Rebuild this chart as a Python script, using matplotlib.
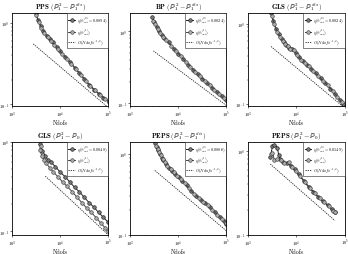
import numpy as np
import matplotlib
matplotlib.use('Agg')
import matplotlib.pyplot as plt

plt.rcParams['font.family'] = 'serif'
plt.rcParams['font.serif'] = ['cmr10', 'DejaVu Serif']
plt.rcParams['mathtext.fontset'] = 'cm'
plt.rcParams['axes.formatter.use_mathtext'] = True

# values, stored as log10(Ndofs) and log10(eta)
titles = [r'$\mathbf{PPS}\ (\mathbb{P}_1^2-\mathbb{P}_1^{dis})$',
          r'$\mathbf{BP}\ (\mathbb{P}_1^2-\mathbb{P}_1^{dis})$',
          r'$\mathbf{GLS}\ (\mathbb{P}_1^2-\mathbb{P}_1^{dis})$',
          r'$\mathbf{GLS}\ (\mathbb{P}_1^2-\mathbb{P}_0)$',
          r'$\mathbf{PEPS}\ (\mathbb{P}_1^2-\mathbb{P}_1^{dis})$',
          r'$\mathbf{PEPS}\ (\mathbb{P}_1^2-\mathbb{P}_0)$']
alpha0 = ['0.0894', '0.0024', '0.0024', '0.0048', '0.0886', '0.0149']

pps_n0 = [3.49, 3.54, 3.59, 3.65, 3.72, 3.78, 3.85, 3.93, 4.0, 4.1, 4.2, 4.3, 4.4, 4.5, 4.6, 4.7, 4.8, 4.9, 5.02]
pps_e0 = [0.12, 0.03, -0.04, -0.10, -0.16, -0.20, -0.24, -0.30, -0.35, -0.42, -0.48, -0.55, -0.62, -0.69, -0.76, -0.82, -0.87, -0.92, -0.97]
pps_n1 = [3.50, 3.56, 3.61, 3.67, 3.74, 3.81, 3.88, 3.96, 4.04, 4.14, 4.23, 4.33, 4.43, 4.53, 4.63, 4.73, 4.83, 4.93, 5.01]
pps_e1 = [0.09, 0.01, -0.06, -0.12, -0.18, -0.22, -0.27, -0.32, -0.38, -0.44, -0.50, -0.57, -0.64, -0.71, -0.77, -0.83, -0.88, -0.93, -0.96]

bp_n0 = [3.46, 3.5, 3.55, 3.6, 3.65, 3.7, 3.8, 3.9, 4.0, 4.1, 4.2, 4.3, 4.4, 4.5, 4.6, 4.7, 4.8, 4.9, 5.0]
bp_e0 = [0.2, 0.13, 0.06, 0.0, -0.05, -0.09, -0.15, -0.24, -0.31, -0.38, -0.46, -0.53, -0.59, -0.66, -0.72, -0.78, -0.84, -0.90, -0.955]
bp_n1 = [3.48, 3.52, 3.57, 3.62, 3.67, 3.75, 3.85, 3.95, 4.05, 4.15, 4.25, 4.35, 4.45, 4.55, 4.65, 4.75, 4.85, 4.95]
bp_e1 = [0.15, 0.1, 0.03, -0.02, -0.07, -0.12, -0.2, -0.27, -0.34, -0.42, -0.49, -0.56, -0.62, -0.69, -0.75, -0.81, -0.87, -0.93]

gls_n0 = [3.47, 3.52, 3.57, 3.63, 3.69, 3.74, 3.79, 3.84, 3.91, 3.98, 4.06, 4.14, 4.21, 4.3, 4.4, 4.5, 4.6, 4.7, 4.8, 4.9, 4.97]
gls_e0 = [0.13, 0.03, -0.07, -0.13, -0.19, -0.23, -0.27, -0.30, -0.31, -0.36, -0.42, -0.47, -0.51, -0.56, -0.62, -0.68, -0.74, -0.81, -0.88, -0.95, -1.0]
gls_n1 = [3.49, 3.54, 3.6, 3.66, 3.71, 3.77, 3.82, 3.87, 3.94, 4.02, 4.1, 4.18, 4.26, 4.35, 4.45, 4.55, 4.65, 4.75, 4.85, 4.94]
gls_e1 = [0.1, -0.01, -0.1, -0.16, -0.21, -0.25, -0.28, -0.31, -0.33, -0.39, -0.45, -0.49, -0.53, -0.59, -0.65, -0.71, -0.77, -0.84, -0.91, -0.98]

glsp0_n0 = [3.58, 3.63, 3.69, 3.75, 3.81, 3.9, 4.0, 4.1, 4.2, 4.3, 4.4, 4.5, 4.6, 4.7, 4.8, 4.9, 5.0]
glsp0_e0 = [-0.03, -0.1, -0.16, -0.21, -0.23, -0.28, -0.34, -0.39, -0.45, -0.51, -0.56, -0.62, -0.68, -0.73, -0.79, -0.845, -0.9]
glsp0_n1 = [3.6, 3.57, 3.62, 3.66, 3.71, 3.78, 3.86, 3.95, 4.05, 4.15, 4.25, 4.35, 4.45, 4.55, 4.65, 4.75, 4.85, 4.93, 5.0]
glsp0_e1 = [-0.05, -0.09, -0.16, -0.2, -0.24, -0.29, -0.34, -0.39, -0.45, -0.5, -0.56, -0.62, -0.68, -0.74, -0.79, -0.85, -0.91, -0.96, -1.0]

peps_n0 = [3.51, 3.55, 3.58, 3.62, 3.66, 3.69, 3.74, 3.8, 3.87, 3.94, 4.01, 4.08, 4.17, 4.27, 4.37, 4.47, 4.56, 4.66, 4.76, 4.86, 4.95, 5.0]
peps_e0 = [0.136, 0.08, 0.05, 0.0, -0.05, -0.08, -0.12, -0.17, -0.21, -0.25, -0.29, -0.33, -0.39, -0.46, -0.52, -0.57, -0.61, -0.66, -0.72, -0.78, -0.83, -0.86]
peps_n1 = [3.53, 3.57, 3.6, 3.64, 3.68, 3.72, 3.77, 3.84, 3.91, 3.98, 4.05, 4.13, 4.22, 4.32, 4.42, 4.52, 4.61, 4.71, 4.81, 4.91, 4.99]
peps_e1 = [0.1, 0.06, 0.02, -0.02, -0.07, -0.1, -0.15, -0.19, -0.23, -0.27, -0.31, -0.36, -0.42, -0.49, -0.54, -0.59, -0.63, -0.69, -0.75, -0.8, -0.85]

pepsp0_n0 = [3.455, 3.5, 3.54, 3.6, 3.63, 3.66, 3.72, 3.8, 3.88, 3.96, 4.05, 4.15, 4.25, 4.35, 4.45, 4.55, 4.65, 4.73, 4.8]
pepsp0_e0 = [-0.07, 0.055, 0.075, 0.04, -0.05, -0.1, -0.13, -0.14, -0.18, -0.22, -0.28, -0.36, -0.43, -0.49, -0.55, -0.6, -0.65, -0.69, -0.73]
pepsp0_n1 = [3.47, 3.5, 3.54, 3.6, 3.67, 3.74, 3.84, 3.9, 3.98, 4.08, 4.18, 4.28, 4.38, 4.48, 4.58, 4.68, 4.76, 4.8]
pepsp0_e1 = [-0.04, -0.02, -0.11, -0.1, -0.11, -0.15, -0.13, -0.19, -0.24, -0.3, -0.37, -0.44, -0.5, -0.56, -0.61, -0.66, -0.71, -0.73]

series0 = [(pps_n0, pps_e0), (bp_n0, bp_e0), (gls_n0, gls_e0),
           (glsp0_n0, glsp0_e0), (peps_n0, peps_e0), (pepsp0_n0, pepsp0_e0)]
series1 = [(pps_n1, pps_e1), (bp_n1, bp_e1), (gls_n1, gls_e1),
           (glsp0_n1, glsp0_e1), (peps_n1, peps_e1), (pepsp0_n1, pepsp0_e1)]

# reference O(Ndofs^-1/2): log10 of the constant, and the Ndofs range of the line
ref_logC = [1.46, 1.47, 1.45, 1.46, 1.55, 1.57]
ref_start = [3.44, 3.48, 3.47, 3.69, 3.51, 3.455]
ref_end = [5.0, 5.0, 5.0, 5.0, 5.0, 4.8]

# y limits (log10) per panel
ylims = [(-1.024, 0.12), (-1.04, 0.257), (-1.03, 0.133),
         (-1.04, 0.0), (-1.0, 0.15), (-1.0, 0.11)]

fig, axes = plt.subplots(2, 3, figsize=(3.48, 2.55), dpi=100)
fig.subplots_adjust(left=0.035, right=0.99, top=0.945, bottom=0.075,
                    wspace=0.23, hspace=0.38)

for i, ax in enumerate(axes.flat):
    n0, e0 = series0[i]
    n1, e1 = series1[i]
    ax.loglog(10 ** np.array(n0), 10 ** np.array(e0), '-o', color='#222222',
              lw=0.7, ms=2.6, mfc='#777777', mec='#111111', mew=0.4,
              label=r'$\eta(\alpha_{opt}^{(0)}=' + alpha0[i] + ')$')
    ax.loglog(10 ** np.array(n1), 10 ** np.array(e1), '-o', color='#444444',
              lw=0.7, ms=2.6, mfc='#aaaaaa', mec='#333333', mew=0.4,
              label=r'$\eta(\alpha_{opt}^{(1)})$')
    rn = 10 ** np.array([ref_start[i], ref_end[i]])
    ax.loglog(rn, 10 ** ref_logC[i] * rn ** -0.5, '--', color='#222222',
              lw=0.6, dashes=(1.5, 1.2), label=r'$O(Ndofs^{-1/2})$')
    ax.set_xlim(1e3, 1e5)
    ax.set_ylim(10 ** ylims[i][0], 10 ** ylims[i][1])
    ax.set_title(titles[i], fontsize=5, pad=1)
    ax.set_xlabel('Ndofs', fontsize=4.3, labelpad=0)
    ax.tick_params(labelsize=3.2, length=1.5, width=0.4, pad=0.8)
    ax.tick_params(which='minor', length=0.8, width=0.3)
    for s in ax.spines.values():
        s.set_linewidth(0.6)
    leg = ax.legend(loc='upper right', fontsize=3.0, fancybox=False,
                    edgecolor='#222222', borderaxespad=0, handlelength=1.6,
                    handletextpad=0.4, labelspacing=0.15, borderpad=0.3)
    leg.get_frame().set_linewidth(0.5)

fig.savefig('out.png', dpi=100)
